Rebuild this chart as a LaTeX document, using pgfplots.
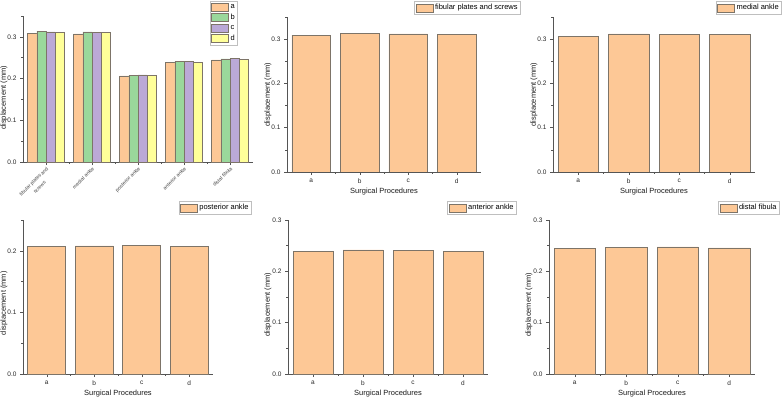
\documentclass[border=0pt]{standalone}
\usepackage{pgfplots}
\pgfplotsset{compat=1.18}
\usepackage{fontspec}
\setmainfont{Liberation Sans}

\definecolor{ca}{HTML}{FDC896}
\definecolor{cb}{HTML}{9AD89B}
\definecolor{cc}{HTML}{BBA9D7}
\definecolor{cd}{HTML}{FFFF99}
\definecolor{edge}{HTML}{7D7468}
\definecolor{axcol}{HTML}{555555}

\pgfplotsset{
  ybar legend/.style={legend image code/.code={\draw[##1, draw=edge, line width=0.5pt, bar shift=0pt] (0pt,-4pt) rectangle (17pt,4pt);}},
  origin/.style={
    scale only axis,
    anchor=south west,
    axis lines*=left,
    axis line style={axcol, line width=0.6pt, -},
    ybar,
    ymin=0,
    ytick distance=0.1,
    minor y tick num=1,
    /pgf/number format/assume math mode=true,
    yticklabel style={/pgf/number format/.cd, fixed, fixed zerofill, precision=1},
    tick style={axcol, line width=0.5pt},
    major tick length=3pt,
    minor tick length=1.6pt,
    tick align=outside,
    tick label style={font=\fontsize{6.5}{7}\selectfont, text=black!85},
    label style={font=\fontsize{7.5}{8}\selectfont, text=black!90},
    xlabel style={at={(axis description cs:0.5,0)}, anchor=center, yshift=-19.5pt},
    every axis plot/.append style={draw=edge, line width=0.6pt},
    legend style={draw=black!25, line width=0.7pt, fill=white,
      font=\fontsize{7.5}{8}\selectfont, inner sep=1pt, row sep=0.3pt,
      anchor=north east},
    legend cell align=left,
  },
  single/.style={
    origin,
    bar width=0.8,
    xmin=0.5, xmax=4.5,
    xtick={1,2,3,4},
    xticklabels={a,b,c,d},
    minor xtick={1.5,2.5,3.5},
    xlabel={Surgical Procedures},
    ylabel={displacement (mm)},
  },
}

\begin{document}
\begin{tikzpicture}[x=1pt,y=1pt]
\path[use as bounding box] (0,0) rectangle (783,399);

% grouped overview
\begin{axis}[origin,
  at={(23pt,237pt)}, width=230pt, height=146pt,
  ymax=0.35, xmin=-0.5, xmax=4.5,
  ybar=0pt, bar width=0.2,
  xtick={0,1,2,3,4},
  minor xtick={0.5,1.5,2.5,3.5},
  xticklabels={{fibular plates and\\screws}, medial ankle, posterior ankle, anterior ankle, distal fibula},
  xticklabel style={rotate=45, anchor=north east, align=center, font=\fontsize{5}{8}\selectfont, inner sep=1pt, text=black!75},
  ylabel={displacement (mm)},
  ylabel style={at={(axis description cs:-0.083,0.44)}, anchor=center},
  legend style={at={(axis description cs:0.935,1.103)}},
]
\addplot[fill=ca, bar shift=-0.3] coordinates {(0,0.309) (1,0.307) (2,0.2065) (3,0.2385) (4,0.245)};
\addplot[fill=cb, bar shift=-0.1] coordinates {(0,0.3135) (1,0.312) (2,0.208) (3,0.2417) (4,0.247)};
\addplot[fill=cc, bar shift=0.1] coordinates {(0,0.312) (1,0.311) (2,0.2086) (3,0.241) (4,0.2476)};
\addplot[fill=cd, bar shift=0.3] coordinates {(0,0.311) (1,0.3105) (2,0.207) (3,0.239) (4,0.2456)};
\legend{a,b,c,d}
\end{axis}

% fibular plates and screws
\begin{axis}[single,
  at={(287pt,227pt)}, width=194pt, height=155pt, ymax=0.35,
  ylabel style={at={(axis description cs:-0.098,0.5)}, anchor=center},
  legend style={at={(axis description cs:1.206,1.103)}},
]
\addplot[fill=ca] coordinates {(1,0.309) (2,0.3135) (3,0.312) (4,0.311)};
\legend{fibular plates and screws}
\end{axis}

% medial ankle
\begin{axis}[single,
  at={(553pt,227pt)}, width=202pt, height=155pt, ymax=0.35,
  ylabel style={at={(axis description cs:-0.094,0.5)}, anchor=center},
  legend style={at={(axis description cs:1.134,1.103)}},
]
\addplot[fill=ca] coordinates {(1,0.307) (2,0.312) (3,0.311) (4,0.3105)};
\legend{medial ankle}
\end{axis}

% posterior ankle
\begin{axis}[single,
  at={(23pt,25pt)}, width=190pt, height=154pt, ymax=0.25,
  ylabel style={at={(axis description cs:-0.1,0.46)}, anchor=center},
  legend style={at={(axis description cs:1.205,1.123)}},
]
\addplot[fill=ca] coordinates {(1,0.2065) (2,0.208) (3,0.2086) (4,0.207)};
\legend{posterior ankle}
\end{axis}

% anterior ankle
\begin{axis}[single,
  at={(288pt,25pt)}, width=200pt, height=154pt, ymax=0.3,
  ylabel style={at={(axis description cs:-0.1,0.45)}, anchor=center},
  legend style={at={(axis description cs:1.145,1.123)}},
]
\addplot[fill=ca] coordinates {(1,0.2385) (2,0.2417) (3,0.241) (4,0.239)};
\legend{anterior ankle}
\end{axis}

% distal fibula
\begin{axis}[single,
  at={(549pt,25pt)}, width=206pt, height=154pt, ymax=0.3,
  ylabel style={at={(axis description cs:-0.097,0.45)}, anchor=center},
  legend style={at={(axis description cs:1.121,1.123)}},
]
\addplot[fill=ca] coordinates {(1,0.245) (2,0.247) (3,0.2476) (4,0.2456)};
\legend{distal fibula}
\end{axis}
\end{tikzpicture}
\end{document}
